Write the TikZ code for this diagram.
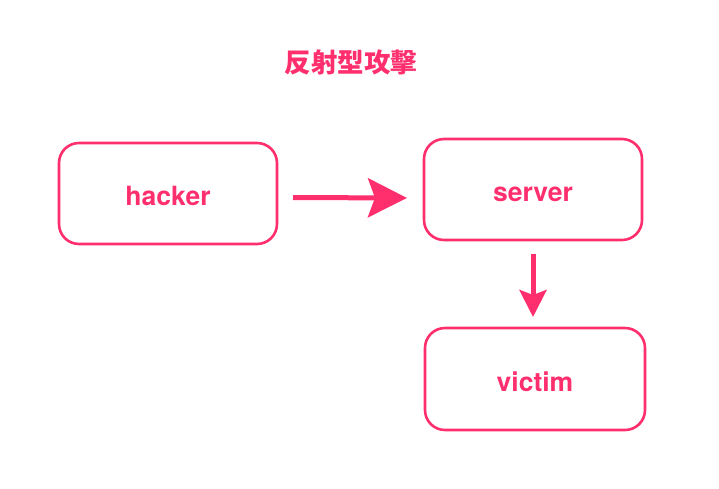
\documentclass[tikz,border=0pt]{standalone}
\usepackage{fontspec}
\setsansfont{TeX Gyre Heros}
\newfontfamily\cjk{Noto Sans CJK TC}
\usetikzlibrary{arrows.meta}
\definecolor{keypink}{HTML}{FF2F6E}
\begin{document}
\begin{tikzpicture}[x=1pt,y=-1pt,
    box/.style={draw=keypink,line width=2.6pt,rounded corners=20pt,
      minimum width=218pt,minimum height=101pt,text=keypink,
      text height=24pt,text depth=0pt,
      font=\sffamily\bfseries\fontsize{26.5}{26.5}\selectfont},
    flow/.style={draw=keypink,line width=5pt}]
  \useasboundingbox (0,0) rectangle (719,488);
  \node[text=keypink,font=\cjk\bfseries\fontsize{26.5}{26.5}\selectfont] (title) at (351,62) {反射型攻擊};
  \node[box] (hacker) at (168,193.5) {hacker};
  \node[box] (server) at (533,189.5) {server};
  \node[box,minimum width=220pt,minimum height=102pt] (victim) at (535,379) {victim};
  \draw[flow,-{Stealth[length=39pt,width=39pt,inset=7pt]},shorten <=14.7pt,shorten >=15.7pt]
    ([yshift=-4pt]hacker.east) -- ([yshift=-8.5pt]server.west);
  \draw[flow,-{Stealth[length=27pt,width=27pt,inset=5pt]},shorten <=12.7pt,shorten >=9.7pt]
    (server.south) -- (server.south |- victim.north);
\end{tikzpicture}
\end{document}
